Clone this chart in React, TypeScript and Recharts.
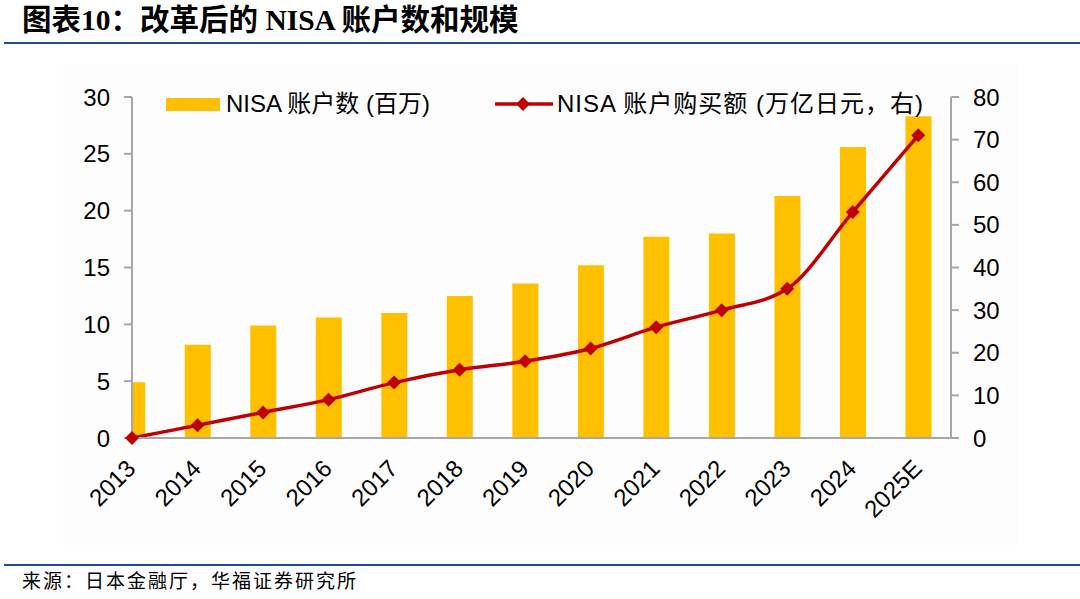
import React from 'react';
import {
  ComposedChart,
  Bar,
  Line,
  XAxis,
  YAxis,
} from 'recharts';

const years = ['2013', '2014', '2015', '2016', '2017', '2018', '2019', '2020', '2021', '2022', '2023', '2024', '2025E'];
// NISA 账户数 (百万)
const accounts = [4.9, 8.2, 9.9, 10.6, 11.0, 12.5, 13.6, 15.2, 17.7, 18.0, 21.3, 25.6, 28.3];
// NISA 账户购买额 (万亿日元)
const purchases = [0, 3, 6, 9, 13, 16, 18, 21, 26, 30, 35, 53, 71];
const leftTicks = [0, 5, 10, 15, 20, 25, 30];
const rightTicks = [0, 10, 20, 30, 40, 50, 60, 70, 80];
const xTicks = years.map((_, i) => i);

const data = years.map((year, i) => ({
  idx: i,
  year,
  accounts: accounts[i],
  purchases: purchases[i],
}));

const SANS = '"Liberation Sans", Arial, "Noto Sans CJK SC", sans-serif';
const SERIF = '"Liberation Serif", "Times New Roman", "Noto Sans CJK SC", serif';
const AXIS = '#a6a6a6';
const BAR = '#ffc000';
const LINE = '#c00000';
const BLUE = '#1f4e9a';

const Diamond = (props: any) => {
  const { cx, cy, index } = props;
  if (cx == null || cy == null) return null;
  const r = 7;
  return (
    <polygon
      key={`d-${index}`}
      points={`${cx},${cy - r} ${cx + r},${cy} ${cx},${cy + r} ${cx - r},${cy}`}
      fill={LINE}
    />
  );
};

const YearTick = (props: any) => {
  const { x, y, payload } = props;
  const ax = x + 5;
  const ay = y + 24;
  return (
    <text
      x={ax}
      y={ay}
      transform={`rotate(-45, ${ax}, ${ay})`}
      textAnchor="end"
      fontSize={24}
      fontFamily={SANS}
      fill="#000"
    >
      {years[payload.value]}
    </text>
  );
};

const LegendBox = () => (
  <div style={{ position: 'absolute', left: 166, top: 86, width: 800, height: 30, fontFamily: SANS, fontSize: 24, color: '#000' }}>
    <div style={{ position: 'absolute', left: 0, top: 12, width: 54, height: 13, background: BAR }} />
    <div style={{ position: 'absolute', left: 60, top: 4, whiteSpace: 'nowrap', lineHeight: '28px' }}>
      NISA 账户数 (百万)
    </div>
    <svg style={{ position: 'absolute', left: 329, top: 8 }} width={58} height={20}>
      <line x1={0} y1={10} x2={58} y2={10} stroke={LINE} strokeWidth={3.5} />
      <polygon points="28,3 35,10 28,17 21,10" fill={LINE} />
    </svg>
    <div style={{ position: 'absolute', left: 391, top: 4, whiteSpace: 'nowrap', lineHeight: '28px', letterSpacing: 1 }}>
      NISA 账户购买额 (万亿日元，右)
    </div>
  </div>
);

const App: React.FC = () => {
  return (
    <div style={{ position: 'absolute', left: 0, top: 0, width: 1080, height: 599, background: '#fff', overflow: 'hidden' }}>
      {/* 标题 */}
      <div
        style={{
          position: 'absolute',
          left: 22,
          top: 3,
          fontFamily: SERIF,
          fontWeight: 'bold',
          fontSize: 29.5,
          lineHeight: '34px',
          whiteSpace: 'nowrap',
          color: '#000',
        }}
      >
        图表10：改革后的 NISA 账户数和规模
      </div>
      <div style={{ position: 'absolute', left: 4, top: 42, width: 1076, height: 2, background: BLUE }} />

      {/* 图表底色 */}
      <div style={{ position: 'absolute', left: 63, top: 64, width: 955, height: 481, background: '#fdfdfd' }} />

      <div style={{ position: 'absolute', left: 0, top: 0 }}>
        <ComposedChart
          width={1080}
          height={599}
          data={data}
          margin={{ top: 97, right: 69, left: 72, bottom: 101 }}
        >
          <XAxis
            xAxisId="bar"
            type="number"
            dataKey="idx"
            domain={[0, 12.5]}
            ticks={xTicks}
            allowDataOverflow
            interval={0}
            height={60}
            axisLine={{ stroke: AXIS, strokeWidth: 2 }}
            tickLine={false}
            tick={<YearTick />}
          />
          <XAxis xAxisId="line" type="number" dataKey="idx" domain={[0, 12.5]} hide />
          <YAxis
            yAxisId="left"
            domain={[0, 30]}
            ticks={leftTicks}
            width={60}
            tickSize={8}
            tickMargin={14}
            axisLine={{ stroke: AXIS, strokeWidth: 2 }}
            tickLine={{ stroke: AXIS, strokeWidth: 2 }}
            tick={{ fill: '#000', fontSize: 24, fontFamily: SANS }}
          />
          <YAxis
            yAxisId="right"
            orientation="right"
            domain={[0, 80]}
            ticks={rightTicks}
            width={60}
            tickSize={8}
            tickMargin={14}
            axisLine={{ stroke: AXIS, strokeWidth: 2 }}
            tickLine={{ stroke: AXIS, strokeWidth: 2 }}
            tick={{ fill: '#000', fontSize: 24, fontFamily: SANS }}
          />
          <Bar
            xAxisId="bar"
            yAxisId="left"
            dataKey="accounts"
            name="NISA 账户数 (百万)"
            fill={BAR}
            barSize={26}
            isAnimationActive={false}
          />
          <Line
            xAxisId="line"
            yAxisId="right"
            type="monotone"
            dataKey="purchases"
            name="NISA 账户购买额 (万亿日元，右)"
            stroke={LINE}
            strokeWidth={3.5}
            dot={Diamond}
            activeDot={false}
            isAnimationActive={false}
          />
        </ComposedChart>
      </div>

      {/* 图例 */}
      <LegendBox />

      {/* 来源 */}
      <div style={{ position: 'absolute', left: 4, top: 564, width: 1076, height: 2, background: BLUE }} />
      <div
        style={{
          position: 'absolute',
          left: 22,
          top: 569,
          fontFamily: SERIF,
          fontSize: 19,
          lineHeight: '26px',
          letterSpacing: 2,
          whiteSpace: 'nowrap',
          color: '#000',
        }}
      >
        来源：日本金融厅，华福证券研究所
      </div>
    </div>
  );
};

export default App;
